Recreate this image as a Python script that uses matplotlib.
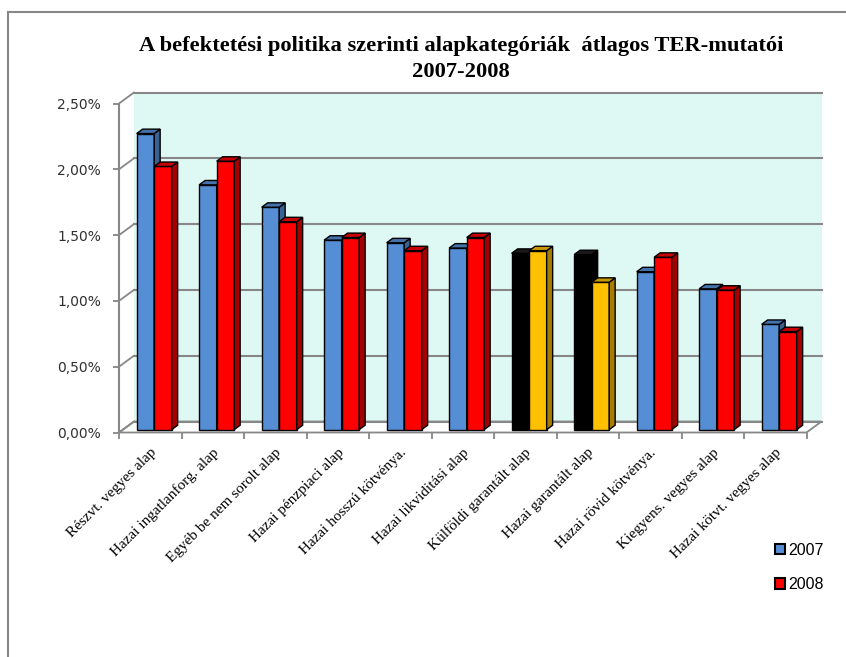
import matplotlib
matplotlib.use("Agg")
import matplotlib.pyplot as plt
from matplotlib.patches import Polygon, Patch
from matplotlib.lines import Line2D
from matplotlib.ticker import FuncFormatter
from matplotlib.transforms import offset_copy

# ---------------------------
# Adatok
# ---------------------------
kategoriak = [
    "Részvt. vegyes alap",
    "Hazai ingatlanforg. alap",
    "Egyéb be nem sorolt alap",
    "Hazai pénzpiaci alap",
    "Hazai hosszú kötvénya.",
    "Hazai likviditási alap",
    "Külföldi garantált alap",
    "Hazai garantált alap",
    "Hazai rövid kötvénya.",
    "Kiegyens. vegyes alap",
    "Hazai kötvt. vegyes alap",
]
ter_2007 = [2.25, 1.86, 1.69, 1.44, 1.42, 1.38, 1.34, 1.33, 1.20, 1.07, 0.80]
ter_2008 = [2.00, 2.04, 1.58, 1.46, 1.36, 1.46, 1.36, 1.12, 1.31, 1.06, 0.745]
y_ticks = [0.0, 0.5, 1.0, 1.5, 2.0, 2.5]
garantalt = [6, 7]  # ezek a kategoriak mas szinnel mennek

cim = "A befektetési politika szerinti alapkategóriák  átlagos TER-mutatói\n2007-2008"

# szinek: (elolap, oldallap, teteje)
KEK = ("#558ED5", "#3B6192", "#4572AC")
PIROS = ("#FF0000", "#A40000", "#C80000")
FEKETE = ("#000000", "#000000", "#1A1A1A")
SARGA = ("#FFC000", "#A67D00", "#C99700")
FAL = "#DEF8F3"
SZURKE = "#878787"

# ---------------------------
# Abra es tengely (az elso sik)
# ---------------------------
fig = plt.figure(figsize=(8.46, 6.57), dpi=100)
fig.patch.set_facecolor("white")
ax = fig.add_axes([119 / 846, (657 - 432.5) / 657, 687.5 / 846, 329 / 657])
ax.set_xlim(0, 11)
ax.set_ylim(0, 2.5)
ax.patch.set_visible(False)

# melyseg a hatso falig, adat-egysegben
DX = 15 / 62.5
DY = 11 / 131.6
n = len(kategoriak)

# hatso fal
ax.add_patch(Polygon([(DX, DY), (n + DX, DY), (n + DX, 2.5 + DY), (DX, 2.5 + DY)],
                     closed=True, facecolor=FAL, edgecolor="none", zorder=0, clip_on=False))
# padlo
ax.add_patch(Polygon([(0, 0), (n, 0), (n + DX, DY), (DX, DY)],
                     closed=True, facecolor="white", edgecolor=SZURKE, lw=1.3, zorder=1, clip_on=False))

# racsvonalak a falon + atlos vonalak az oldalon
for v in y_ticks:
    ax.add_line(Line2D([DX, n + DX], [v + DY, v + DY], color=SZURKE, lw=1.5, zorder=1, clip_on=False))
    ax.add_line(Line2D([0, DX], [v, v + DY], color=SZURKE, lw=1.3, zorder=1, clip_on=False))

# ---------------------------
# 3D hatasu oszlopok
# ---------------------------
w = 0.28
bar_z = 0.26
bdx, bdy = 0.4 * DX, 0.4 * DY
sx, sy = bar_z * DX, bar_z * DY


def oszlop(x0, v, szinek):
    elo, oldal, teto = szinek
    ax.bar(x0, v, width=w, bottom=sy, align="edge", color=elo,
           edgecolor="black", lw=1.0, zorder=3, clip_on=False)
    x1 = x0 + w
    top = sy + v
    ax.add_patch(Polygon([(x1, sy), (x1 + bdx, sy + bdy), (x1 + bdx, top + bdy), (x1, top)],
                         closed=True, facecolor=oldal, edgecolor="black", lw=1.0, zorder=3, clip_on=False))
    ax.add_patch(Polygon([(x0, top), (x1, top), (x1 + bdx, top + bdy), (x0 + bdx, top + bdy)],
                         closed=True, facecolor=teto, edgecolor="black", lw=1.0, zorder=3, clip_on=False))


for i in range(n):
    x_kek = i + 0.5 - w + sx
    c1 = FEKETE if i in garantalt else KEK
    c2 = SARGA if i in garantalt else PIROS
    oszlop(x_kek, ter_2007[i], c1)
    oszlop(x_kek + w, ter_2008[i], c2)

# ---------------------------
# Tengelyek
# ---------------------------
for s in ["top", "right"]:
    ax.spines[s].set_visible(False)
ax.spines["bottom"].set_visible(False)
ax.spines["left"].set_color(SZURKE)
ax.spines["left"].set_linewidth(1.5)

ax.set_yticks(y_ticks)
ax.yaxis.set_major_formatter(FuncFormatter(lambda v, p: f"{v:.2f}%".replace(".", ",")))
ax.tick_params(axis="y", direction="out", length=4, width=1.3, color=SZURKE,
               labelsize=10, labelcolor="#303030", pad=9)

ax.set_xticks([], [])
ax.set_xticks(range(n + 1), minor=True)
ax.tick_params(axis="x", which="minor", direction="out", length=4, width=1.3, color=SZURKE)

cimke_tr = offset_copy(ax.transData, fig=fig, x=4, y=-18, units="dots")
for i, k in enumerate(kategoriak):
    ax.text(i + 0.5, 0, k, transform=cimke_tr, rotation=45, rotation_mode="anchor",
            ha="right", va="center", fontsize=11, family="Liberation Serif")

# ---------------------------
# Cim, jelmagyarazat, keret
# ---------------------------
fig.text(461 / 846, 1 - 36 / 657, cim, ha="center", va="top", fontsize=16.2,
         fontweight="bold", family="Liberation Serif", linespacing=1.4)

jel = [Patch(facecolor=KEK[0], edgecolor="black", lw=1.5, label="2007"),
       Patch(facecolor=PIROS[0], edgecolor="black", lw=1.5, label="2008")]
fig.legend(handles=jel, loc="upper left", bbox_to_anchor=(775 / 846, 1 - 543 / 657),
           frameon=False, prop={"family": "Liberation Sans", "size": 11.5},
           handlelength=0.6, handleheight=0.6, handletextpad=0.2, labelspacing=1.2,
           borderpad=0, borderaxespad=0)

fig.add_artist(Line2D([8 / 846, 1], [1 - 12 / 657, 1 - 12 / 657], color=SZURKE, lw=1.5,
                      transform=fig.transFigure))
fig.add_artist(Line2D([8 / 846, 8 / 846], [0, 1 - 12 / 657], color=SZURKE, lw=1.5,
                      transform=fig.transFigure))

fig.savefig("out.png", dpi=100)
